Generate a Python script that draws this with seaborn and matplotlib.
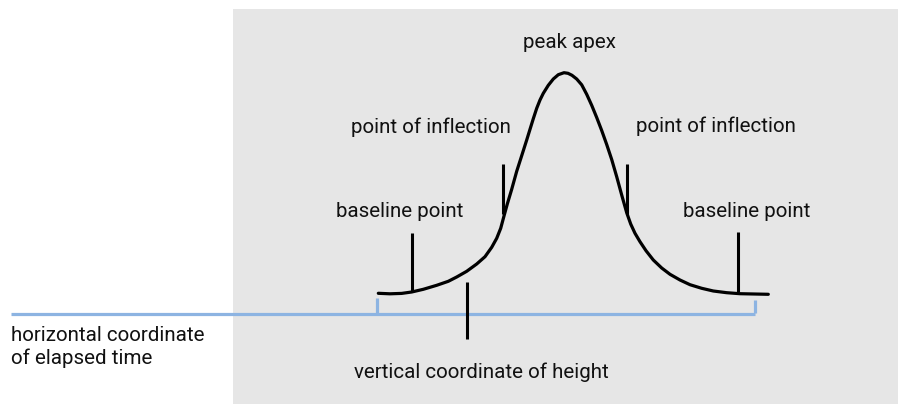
import matplotlib
matplotlib.use("Agg")
import matplotlib.pyplot as plt
from matplotlib.patches import Rectangle
import seaborn as sns
import pandas as pd

sns.set_style("white")
plt.rcParams['font.family'] = ['Roboto', 'DejaVu Sans']

W, H = 898, 404

# Peak curve (elapsed time, pixel row), pixel-like units
peak_time = [378.3, 390.0, 401.7, 411.7, 423.3, 436.7, 448.3, 456.7, 466.7, 476.7,
             485.0, 491.7, 496.7, 500.7, 504.0, 507.3, 511.7, 516.7, 521.7, 526.7,
             530.0, 533.3, 536.7, 540.0, 543.3, 548.3, 553.3, 558.3, 564.0,
             568.0, 572.0, 576.7, 581.7, 586.7, 591.7, 596.7, 601.7, 606.7, 611.7,
             616.7, 621.7, 626.7, 630.7, 635.0, 640.0, 646.0, 653.3, 661.7, 670.0,
             680.0, 690.0, 701.7, 713.3, 726.7, 740.0, 768.3]
peak_y_px = [293.3, 293.8, 293.4, 292.0, 289.3, 285.3, 281.3, 277.0, 271.3, 264.0,
             256.7, 247.3, 238.3, 228.3, 216.0, 204.0, 189.3, 171.3, 155.7, 140.0,
             129.3, 118.7, 108.3, 100.0, 93.3, 85.3, 79.0, 74.7, 72.7,
             73.3, 75.3, 79.0, 84.8, 94.3, 105.3, 117.5, 130.5, 144.5, 159.5,
             176.7, 195.0, 212.7, 224.0, 233.3, 241.7, 250.7, 260.0, 268.0, 274.3,
             280.0, 284.7, 288.3, 291.0, 292.7, 293.7, 294.3]
peak_height = [H - v for v in peak_y_px]

# Marker ticks: x, top, bottom (pixel rows)
tick_x = [503.3, 626.7, 411.7, 738.3, 466.7]
tick_top = [164.3, 164.3, 232.7, 231.7, 281.7]
tick_bottom = [214.0, 214.0, 292.0, 292.0, 339.0]

# Blue time axis
axis_y = 314
axis_x0, axis_x1 = 11, 755
axis_tick_x = [377, 755]
axis_tick_top = [298, 300]

labels = ["peak apex", "point of inflection", "point of inflection",
          "baseline point", "baseline point", "vertical coordinate of height",
          "horizontal coordinate", "of elapsed time"]
label_x = [523, 351, 636, 336, 683, 354, 11, 11]
label_y = [48, 133, 132, 217, 217, 378, 341, 364]

fig = plt.figure(figsize=(W / 100, H / 100), dpi=100)
ax = fig.add_axes([0, 0, 1, 1])

ax.add_patch(Rectangle((233, 0), W - 233, H - 9, facecolor="#e6e6e6",
                       edgecolor="none", zorder=0))

blue = "#8db4e2"
ax.plot([axis_x0, axis_x1], [H - axis_y, H - axis_y], color=blue, lw=2.3,
        solid_capstyle="butt", zorder=1)
ax.vlines(axis_tick_x, [H - t for t in axis_tick_top], H - axis_y + 1.1,
          color=blue, lw=2.3, zorder=1)

df = pd.DataFrame({"time": peak_time, "height": peak_height})
sns.lineplot(data=df, x="time", y="height", sort=False, color="black",
             lw=2.3, ax=ax, zorder=3)
for ln in ax.get_lines():
    ln.set_solid_joinstyle("round")

ax.vlines(tick_x, [H - b for b in tick_bottom], [H - t for t in tick_top],
          color="black", lw=2.2, zorder=3)

for t, x, y in zip(labels, label_x, label_y):
    ax.text(x, H - y, t, fontsize=14.8, color="#111111", ha="left",
            va="baseline", zorder=4)

ax.set_xlim(0, W)
ax.set_ylim(0, H)
ax.axis("off")

fig.savefig("out.png", dpi=100)
